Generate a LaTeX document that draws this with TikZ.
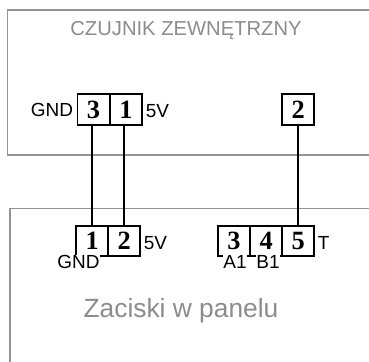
\documentclass[tikz,border=0pt]{standalone}
\usepackage{fontspec}
\setmainfont{Liberation Sans}
\newfontfamily\pinfont{Liberation Serif}
\begin{document}
\begin{tikzpicture}[x=0.02cm,y=-0.02cm]
      \useasboundingbox (0,0) rectangle (369,362);
      \fill[white] (0,0) rectangle (369,362);
      % frames, open at the picture edge
      \begin{scope}[every path/.style={draw=black!42,line width=0.9pt}]
        \path (369,10) -- (7.5,10) -- (7.5,155) -- (369,155);
        \path (369,208.5) -- (10,208.5) -- (10,362);
      \end{scope}
      \begin{scope}[every node/.style={draw,rectangle,line width=0.95pt,inner sep=0pt,minimum width=0.64cm,minimum height=0.61cm,font=\pinfont\bfseries\fontsize{15}{15}\selectfont}]
        \node (s3) at (93.5,109.5) {3};
        \node (s1) at (126,109.5) {1};
        \node (s2) at (298.3,109.5) {2};
        \node (p1) at (92.3,241) {1};
        \node (p2) at (124.3,241) {2};
        \node (p3) at (234,241) {3};
        \node (p4) at (266.3,241) {4};
        \node (p5) at (298.3,241) {5};
      \end{scope}
      \begin{scope}[every edge/.style={draw=black,line width=0.95pt}]
        \path (p1 |- s3.south) edge (p1.north);
        \path (p2 |- s1.south) edge (p2.north);
        \path (s2) edge (p5);
      \end{scope}
      \begin{scope}[every node/.style={inner sep=0.3pt,font=\fontsize{10.8}{10.8}\selectfont}]
        \node[anchor=east] (gnds) at (74,109.5) {GND};
        \node[anchor=west] (vs) at (145,111.5) {5V};
        \node[anchor=west] (vp) at (143,243) {5V};
        \node[anchor=west] (tp) at (317,243) {T};
        \node[fill=white] (gndp) at (78.5,262) {GND};
        \node[fill=white] (a1) at (235,262) {A1};
        \node[fill=white] (b1) at (268,262) {B1};
      \end{scope}
      \node[text=black!45,font=\fontsize{11.5}{11.5}\selectfont] (top) at (186,31) {CZUJNIK ZEWNĘTRZNY};
      \node[text=black!45,font=\fontsize{15}{15}\selectfont] (bot) at (181,311) {Zaciski w panelu};
      \end{tikzpicture}
\end{document}
